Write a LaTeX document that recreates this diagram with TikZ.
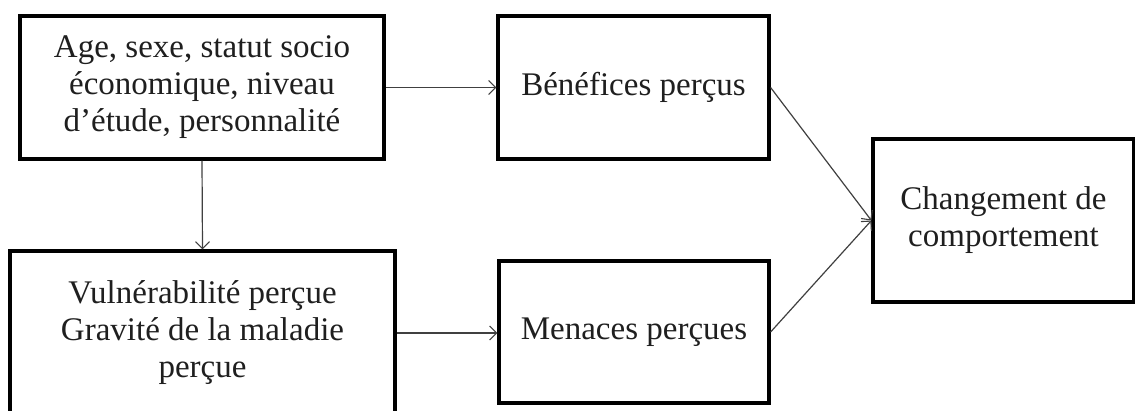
\documentclass[tikz,border=0pt]{standalone}
\usepackage{fontspec}
\setmainfont{Liberation Serif}
\usetikzlibrary{arrows.meta}
\begin{document}
\begin{tikzpicture}[x=1pt,y=-1pt,
  box/.style={draw=black, line width=3.2pt, rectangle, inner sep=0pt, align=center,
    font=\fontsize{33}{37}\selectfont, text=black!88},
  conn/.style={draw=black!75, line width=1.2pt, -{Straight Barb[length=7pt,width=14pt,line width=1.1pt]}}]
\clip (0,0) rectangle (1135,410);
\fill[white] (0,0) rectangle (1135,410);
\node[box, minimum width=364pt, minimum height=143pt] (A) at (202,87.5)
  {Age, sexe, statut socio\\économique, niveau\\d’étude, personnalité};
\node[box, minimum width=271pt, minimum height=143pt] (B) at (633.5,87.5) {Bénéfices perçus};
\node[box, minimum width=385pt, minimum height=164pt] (C) at (202.5,333)
  {Vulnérabilité perçue\\Gravité de la maladie\\perçue};
\node[box, minimum width=270pt, minimum height=142pt] (D) at (634,332) {Menaces perçues};
\node[box, minimum width=261pt, minimum height=163pt] (E) at (1003.5,220.5) {Changement de\\comportement};
\draw[conn] (A.east) -- (B.west);
\draw[conn] (A.south) -- (C.north);
\draw[conn] (C.east) -- (C.east -| D.west);
\draw[conn] (B.east) -- (E.west);
\draw[conn] (D.east) -- (E.west);
\end{tikzpicture}
\end{document}
